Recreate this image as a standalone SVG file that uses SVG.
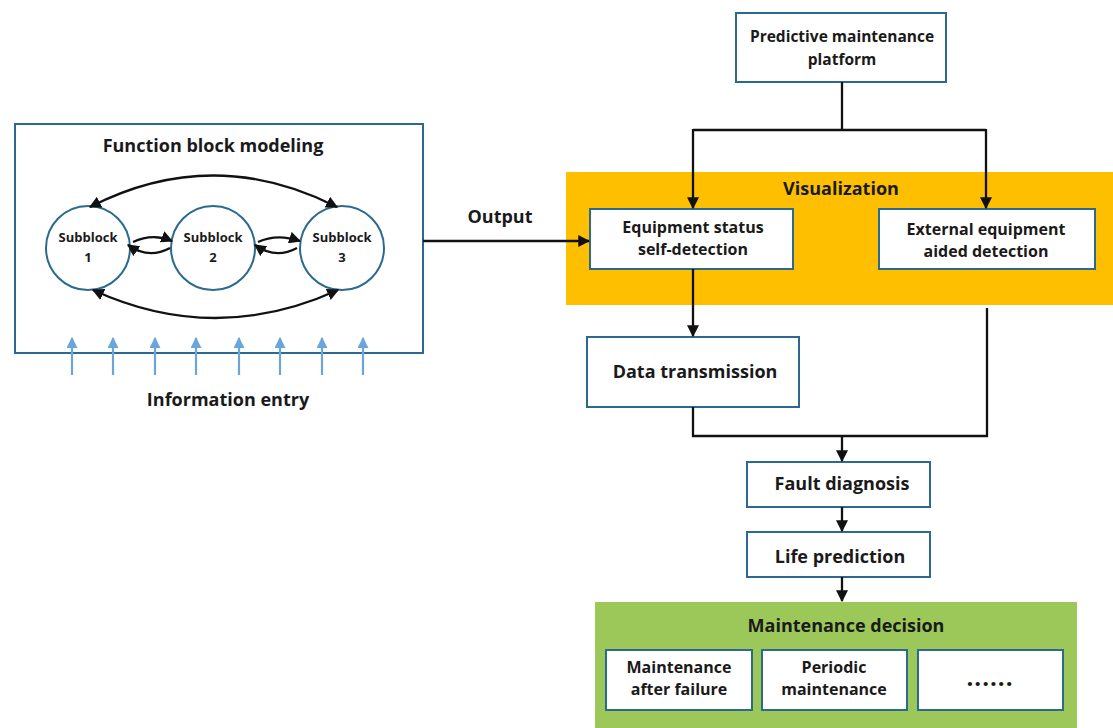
<svg xmlns="http://www.w3.org/2000/svg" width="1113" height="728" viewBox="0 0 1113 728">
<style>
.box{fill:#fff;stroke:#2b6a8e;stroke-width:2}
.circ{fill:#fff;stroke:#2b6a8e;stroke-width:2}
.t{font-family:"Open Sans","Liberation Sans",sans-serif;font-weight:700;fill:#1a1a1a;text-anchor:middle}
.ln{fill:none;stroke:#111;stroke-width:2.3}
.bl{fill:none;stroke:#6aa6dc;stroke-width:2.2}
</style>
<defs>
<marker id="ah" viewBox="0 0 10 10" refX="9" refY="5" markerWidth="5.2" markerHeight="5.2" orient="auto-start-reverse" markerUnits="strokeWidth"><path d="M0,0 L10,5 L0,10 z" fill="#111"/></marker>
<marker id="ab" viewBox="0 0 10 10" refX="9" refY="5" markerWidth="5" markerHeight="5" orient="auto" markerUnits="strokeWidth"><path d="M0,0 L10,5 L0,10 z" fill="#6aa6dc"/></marker>
</defs>
<rect width="1113" height="728" fill="#fff"/>

<g id="visualization">
<rect x="566" y="172" width="547" height="133" fill="#fdbf00"/>
<text class="t" x="841" y="195" font-size="18" fill="#2a1f00">Visualization</text>
</g>
<g id="maintenance-decision">
<rect x="595" y="602" width="482" height="126" fill="#9cc85a"/>
<text class="t" x="846" y="632" font-size="18">Maintenance decision</text>
</g>

<g id="function-block">
<rect class="box" x="15" y="124" width="408" height="229"/>
<text class="t" x="213" y="152" font-size="18">Function block modeling</text>
</g>
<g id="subblock1">
<circle class="circ" cx="88" cy="248" r="42"/>
<text class="t" x="88" y="242" font-size="13">Subblock</text>
<text class="t" x="88" y="262" font-size="13">1</text>
</g>
<g id="subblock2">
<circle class="circ" cx="213" cy="248" r="42"/>
<text class="t" x="213" y="242" font-size="13">Subblock</text>
<text class="t" x="213" y="262" font-size="13">2</text>
</g>
<g id="subblock3">
<circle class="circ" cx="342" cy="248" r="42"/>
<text class="t" x="342" y="242" font-size="13">Subblock</text>
<text class="t" x="342" y="262" font-size="13">3</text>
</g>
<g id="information-entry">
<text class="t" x="228" y="406" font-size="18">Information entry</text>
</g>
<g id="output-label">
<text class="t" x="500" y="223" font-size="18">Output</text>
</g>

<g id="predictive">
<rect class="box" x="736" y="13" width="210" height="69"/>
<text class="t" x="842" y="42" font-size="15.5">Predictive maintenance</text>
<text class="t" x="842" y="65" font-size="15.5">platform</text>
</g>
<g id="self-detection">
<rect class="box" x="590" y="209" width="203" height="60"/>
<text class="t" x="693" y="233" font-size="16">Equipment status</text>
<text class="t" x="693" y="255" font-size="16">self-detection</text>
</g>
<g id="external">
<rect class="box" x="879" y="209" width="216" height="60"/>
<text class="t" x="986" y="235" font-size="16">External equipment</text>
<text class="t" x="986" y="257" font-size="16">aided detection</text>
</g>
<g id="data-transmission">
<rect class="box" x="587" y="337" width="212" height="70"/>
<text class="t" x="695" y="378" font-size="18">Data transmission</text>
</g>
<g id="fault-diagnosis">
<rect class="box" x="747" y="462" width="183" height="45"/>
<text class="t" x="842" y="490" font-size="18">Fault diagnosis</text>
</g>
<g id="life-prediction">
<rect class="box" x="747" y="532" width="183" height="45"/>
<text class="t" x="840" y="563" font-size="18">Life prediction</text>
</g>
<g id="after-failure">
<rect class="box" x="606" y="650" width="146" height="60"/>
<text class="t" x="679" y="673" font-size="16">Maintenance</text>
<text class="t" x="679" y="695" font-size="16">after failure</text>
</g>
<g id="periodic">
<rect class="box" x="762" y="650" width="145" height="60"/>
<text class="t" x="834" y="673" font-size="16">Periodic</text>
<text class="t" x="834" y="695" font-size="16">maintenance</text>
</g>
<g id="etc">
<rect class="box" x="918" y="650" width="145" height="60"/>
<text class="t" x="990" y="686" font-size="24" letter-spacing="1">......</text>
</g>

<g id="connectors">
<path class="ln" d="M90,207 Q213,144 337,207" marker-start="url(#ah)" marker-end="url(#ah)"/>
<path class="ln" d="M93,290 Q215,346 338,290" marker-start="url(#ah)" marker-end="url(#ah)"/>
<path class="ln" d="M133,242 C146,236 160,236 172,241" marker-end="url(#ah)"/>
<path class="ln" d="M170,248 C157,255 142,255 128,245" marker-end="url(#ah)"/>
<path class="ln" d="M258,242 C271,236 285,236 300,241" marker-end="url(#ah)"/>
<path class="ln" d="M297,248 C284,255 269,255 255,245" marker-end="url(#ah)"/>
<path class="ln" d="M423,241 H589" marker-end="url(#ah)"/>
<path class="ln" d="M842,82 V130 M693,130 H986"/>
<path class="ln" d="M693,129 V208" marker-end="url(#ah)"/>
<path class="ln" d="M986,129 V208" marker-end="url(#ah)"/>
<path class="ln" d="M693,269 V336" marker-end="url(#ah)"/>
<path class="ln" d="M693,407 V436 H987 V308"/>
<path class="ln" d="M842,436 V461" marker-end="url(#ah)"/>
<path class="ln" d="M842,507 V531" marker-end="url(#ah)"/>
<path class="ln" d="M842,577 V601" marker-end="url(#ah)"/>
<g class="bl">
<path d="M72,375 V338" marker-end="url(#ab)"/>
<path d="M113,375 V338" marker-end="url(#ab)"/>
<path d="M155,375 V338" marker-end="url(#ab)"/>
<path d="M196,375 V338" marker-end="url(#ab)"/>
<path d="M239,375 V338" marker-end="url(#ab)"/>
<path d="M280,375 V338" marker-end="url(#ab)"/>
<path d="M322,375 V338" marker-end="url(#ab)"/>
<path d="M363,375 V338" marker-end="url(#ab)"/>
</g>
</g>
</svg>
